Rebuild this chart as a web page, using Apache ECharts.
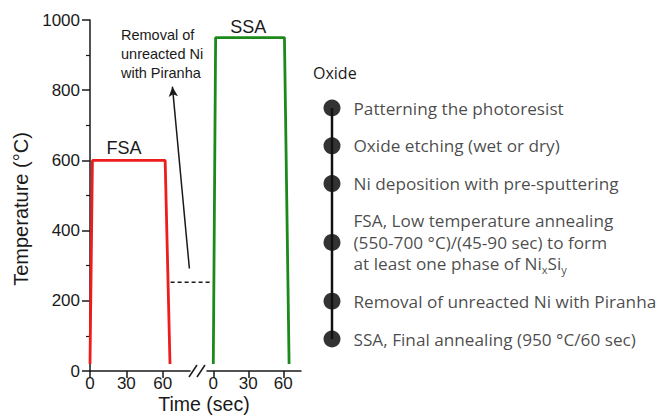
<!DOCTYPE html>
<html>
<head>
<meta charset="utf-8">
<script src="https://cdn.jsdelivr.net/npm/echarts@6/dist/echarts.min.js"></script>
<style>
  html, body { margin: 0; padding: 0; background: #fff; }
  #chart { width: 661px; height: 420px; }
</style>
</head>
<body>
<div id="chart"></div>
<script>
// first anneal (FSA), left time axis
const fsaTime = [0, 2, 62, 66];
const fsaTemp = [20, 600, 600, 20];
// second anneal (SSA), right time axis
const ssaTime = [0, 2, 61, 65];
const ssaTemp = [20, 950, 950, 20];
// dashed level between the two anneals (left axis units, runs past the break)
const waitTime = [66.5, 100];
const waitTemp = 253;
// arrow pointing at the Piranha note
const arrowFrom = [82, 292];
const arrowTo = [68, 810];
const timeTicks = [0, 30, 60];
const tempRange = [0, 1000];

const steps = [
  ['Patterning the photoresist'],
  ['Oxide etching (wet or dry)'],
  ['Ni deposition with pre-sputtering'],
  ['FSA, Low temperature annealing', '(550-700 °C)/(45-90 sec) to form', 'at least one phase of Ni{sub|x}Si{sub|y}'],
  ['Removal of unreacted Ni with Piranha'],
  ['SSA, Final annealing (950 °C/60 sec)'],
];

// vertical place of each step, in text lines
const stepPos = [];
steps.forEach((s, i) => {
  if (i === 0) stepPos.push(0);
  else stepPos.push(stepPos[i - 1] + (steps[i - 1].length + s.length) / 2 + 0.8);
});

const font = 'Liberation Sans, Arial, sans-serif';
const textFont = 'Open Sans, sans-serif';
const ink = '#1a1a1a';

const chart = echarts.init(document.getElementById('chart'), null, { renderer: 'svg' });

const timeAxis = (grid, min, max) => ({
  gridIndex: grid,
  type: 'value',
  min: min,
  max: max,
  axisLine: { onZero: false, lineStyle: { color: ink, width: 1.5 } },
  axisTick: { customValues: timeTicks, length: 7, lineStyle: { color: ink, width: 1.5 } },
  axisLabel: { customValues: timeTicks, fontSize: 17, color: ink, margin: 4, fontFamily: font },
  splitLine: { show: false },
});

const option = {
  animation: false,
  title: {
    text: 'Oxide',
    left: 313,
    top: 65,
    padding: 0,
    textStyle: { fontSize: 16, fontWeight: 'normal', color: ink, fontFamily: textFont },
  },
  grid: [
    { left: 90, top: 20, width: 100, height: 351 },
    { left: 207, top: 20, width: 94, height: 351 },
    { left: 332, top: 66, width: 100, height: 294 },
    { left: 90, top: 20, width: 211, height: 351 },
  ],
  xAxis: [
    timeAxis(0, 0, 82.5),
    timeAxis(1, -5.4, 75.2),
    { gridIndex: 2, type: 'value', min: 0, max: 1, show: false },
    { gridIndex: 3, type: 'value', min: 0, max: 174.1, show: false },
  ],
  yAxis: [
    {
      gridIndex: 0,
      type: 'value',
      min: tempRange[0],
      max: tempRange[1],
      interval: 200,
      axisLine: { show: true, onZero: false, lineStyle: { color: ink, width: 1.5 } },
      axisTick: { show: true, length: 8, lineStyle: { color: ink, width: 1.5 } },
      minorTick: { show: true, splitNumber: 2, length: 4, lineStyle: { color: ink, width: 1.2 } },
      axisLabel: { fontSize: 17, color: ink, margin: 10, fontFamily: font, formatter: v => String(v) },
      splitLine: { show: false },
    },
    { gridIndex: 1, type: 'value', min: tempRange[0], max: tempRange[1], show: false },
    { gridIndex: 2, type: 'value', min: -2, max: 12, inverse: true, show: false },
    { gridIndex: 3, type: 'value', min: tempRange[0], max: tempRange[1], show: false },
  ],
  graphic: [
    {
      type: 'text', x: 21, y: 209, rotation: Math.PI / 2,
      style: { text: 'Temperature (°C)', fontSize: 20, fontFamily: font, fill: ink, align: 'center', verticalAlign: 'middle' },
    },
    {
      type: 'text', x: 204, y: 404,
      style: { text: 'Time (sec)', fontSize: 19.5, fontFamily: font, fill: ink, align: 'center', verticalAlign: 'middle' },
    },
    {
      type: 'text', x: 121, y: 25,
      style: { text: 'Removal of\nunreacted Ni\nwith Piranha', fontSize: 14.5, lineHeight: 19, fontFamily: font, fill: ink, align: 'left', verticalAlign: 'top' },
    },
    { type: 'line', shape: { x1: 189, y1: 377, x2: 197, y2: 365 }, style: { stroke: ink, lineWidth: 1.5 } },
    { type: 'line', shape: { x1: 197, y1: 377, x2: 205, y2: 365 }, style: { stroke: ink, lineWidth: 1.5 } },
  ],
  series: [
    {
      type: 'line',
      xAxisIndex: 0, yAxisIndex: 0,
      data: fsaTime.map((t, i) => [t, fsaTemp[i]]),
      symbol: 'none',
      lineStyle: { color: '#ee1c1c', width: 2.8 },
      markPoint: {
        symbol: 'circle', symbolSize: 1,
        itemStyle: { color: 'transparent' },
        label: { show: true, position: 'top', distance: 3, formatter: 'FSA', fontSize: 18, color: ink, fontFamily: font },
        data: [{ coord: [28, 600] }],
      },
    },
    {
      type: 'line',
      xAxisIndex: 1, yAxisIndex: 1,
      data: ssaTime.map((t, i) => [t, ssaTemp[i]]),
      symbol: 'none',
      lineStyle: { color: '#1b8a1b', width: 2.8 },
      markPoint: {
        symbol: 'circle', symbolSize: 1,
        itemStyle: { color: 'transparent' },
        label: { show: true, position: 'top', distance: 1, formatter: 'SSA', fontSize: 18, color: ink, fontFamily: font },
        data: [{ coord: [30, 950] }],
      },
    },
    {
      type: 'line',
      xAxisIndex: 3, yAxisIndex: 3,
      data: waitTime.map(t => [t, waitTemp]),
      symbol: 'none',
      lineStyle: { color: ink, width: 1.5, type: [4, 3] },
      markLine: {
        silent: true,
        symbol: ['none', 'arrow'],
        symbolSize: [7, 10],
        label: { show: false },
        lineStyle: { color: ink, width: 1.5, type: 'solid' },
        data: [[{ coord: arrowFrom }, { coord: arrowTo }]],
      },
    },
    {
      type: 'line',
      xAxisIndex: 2, yAxisIndex: 2,
      data: stepPos.map(p => [0, p]),
      symbol: 'none',
      lineStyle: { color: '#111', width: 2.5 },
    },
    {
      type: 'scatter',
      xAxisIndex: 2, yAxisIndex: 2,
      data: stepPos.map(p => [0, p]),
      symbolSize: 17,
      itemStyle: { color: '#000' },
      label: {
        show: true,
        position: 'right',
        distance: 13,
        formatter: p => steps[p.dataIndex].join('\n'),
        fontSize: 17.2,
        lineHeight: 21.5,
        color: ink,
        fontFamily: textFont,
        rich: {
          sub: { fontSize: 11, lineHeight: 11, padding: [5, 0, 0, 0], verticalAlign: 'bottom', fontFamily: textFont, color: ink },
        },
      },
    },
  ],
};

chart.setOption(option);
</script>
</body>
</html>
